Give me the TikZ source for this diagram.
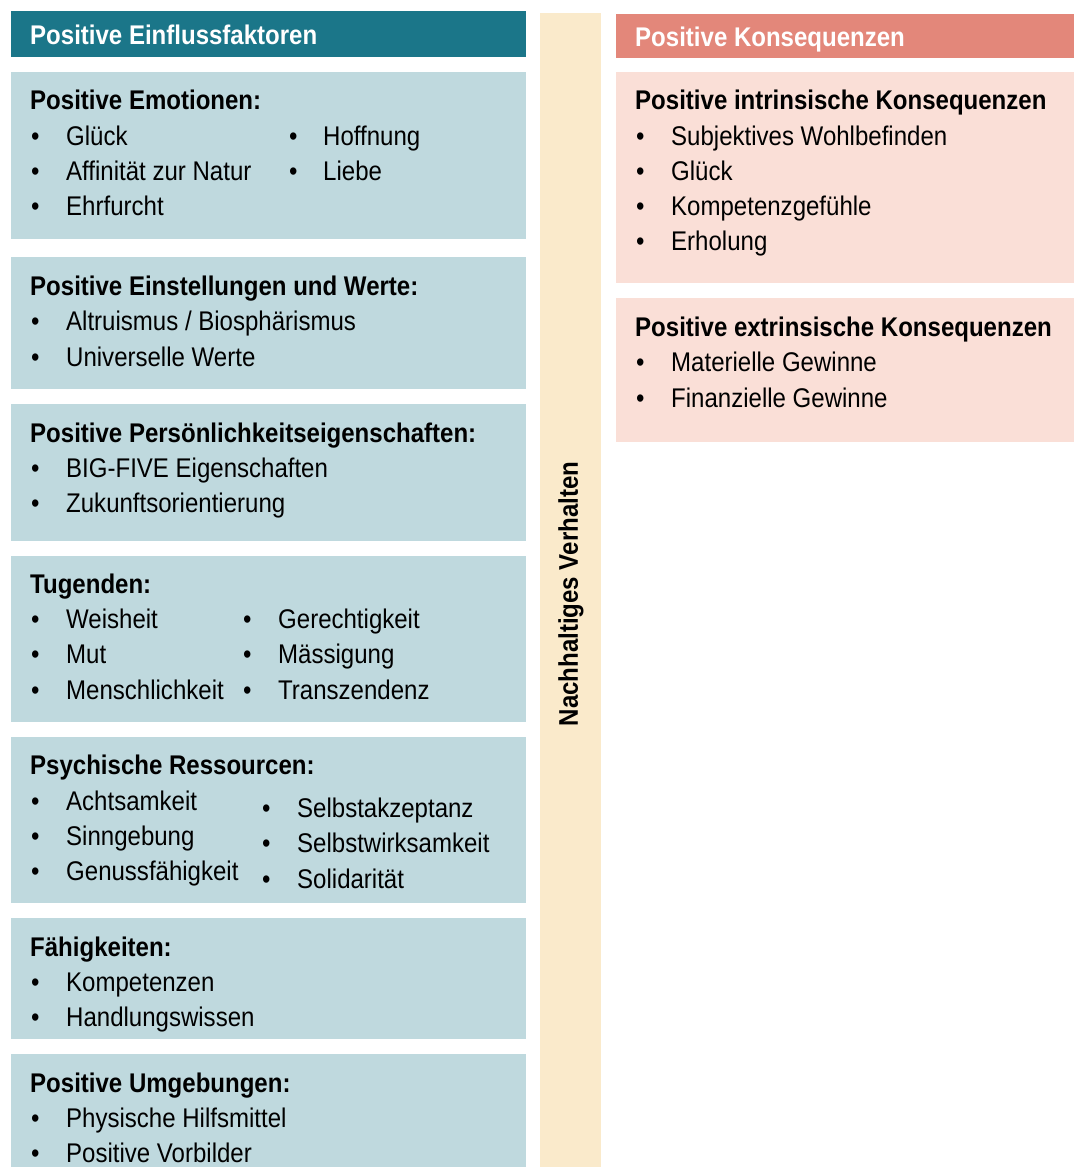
\documentclass[tikz,border=0pt]{standalone}
\usepackage{fontspec}
\setmainfont{Liberation Sans}[FakeStretch=0.89]
\definecolor{hdrteal}{HTML}{1B7689}
\definecolor{boxblue}{HTML}{BFD9DE}
\definecolor{barcream}{HTML}{FAEACB}
\definecolor{hdrsalmon}{HTML}{E3877A}
\definecolor{boxpink}{HTML}{FADFD7}
\tikzset{
  panel/.style={anchor=north west, inner sep=0pt, draw=none},
  txt/.style={anchor=base west, inner sep=0pt, font=\fontsize{27}{35}\selectfont},
  headtxt/.style={txt, font=\fontsize{27}{35}\selectfont\bfseries},
}
% bullet item: name, bullet x, baseline y, text x, text
\newcommand\bitem[5]{%
  \node[txt] (#1b) at (#2,#3) {•};
  \node[txt] (#1) at (#4,#3) {#5};}
\begin{document}
\begin{tikzpicture}[x=1pt,y=-1pt]
\useasboundingbox (0,0) rectangle (1074,1167);

% left column: influencing factors
\node[panel, fill=hdrteal, minimum width=515pt, minimum height=46pt] (lhead) at (11,11) {};
\node[panel, fill=boxblue, minimum width=515pt, minimum height=167pt] (l1) at (11,72) {};
\node[panel, fill=boxblue, minimum width=515pt, minimum height=132pt] (l2) at (11,257) {};
\node[panel, fill=boxblue, minimum width=515pt, minimum height=137pt] (l3) at (11,404) {};
\node[panel, fill=boxblue, minimum width=515pt, minimum height=166pt] (l4) at (11,556) {};
\node[panel, fill=boxblue, minimum width=515pt, minimum height=166pt] (l5) at (11,737) {};
\node[panel, fill=boxblue, minimum width=515pt, minimum height=121pt] (l6) at (11,918) {};
\node[panel, fill=boxblue, minimum width=515pt, minimum height=113pt] (l7) at (11,1054) {};

% middle bar
\node[panel, fill=barcream, minimum width=61pt, minimum height=1154pt] (mid) at (540,13) {};
\node[headtxt, anchor=center, rotate=90] (midtxt) at (571,594) {Nachhaltiges Verhalten};

% right column: consequences
\node[panel, fill=hdrsalmon, minimum width=458pt, minimum height=44pt] (rhead) at (616,14) {};
\node[panel, fill=boxpink, minimum width=458pt, minimum height=211pt] (r1) at (616,72) {};
\node[panel, fill=boxpink, minimum width=458pt, minimum height=144pt] (r2) at (616,298) {};

% header texts
\node[headtxt, text=white] (lheadtxt) at (30,44) {Positive Einflussfaktoren};
\node[headtxt, text=white] (rheadtxt) at (635,46) {Positive Konsequenzen};

% box 1
\node[headtxt] (h1) at (30,109) {Positive Emotionen:};
\bitem{e1}{31}{145}{66}{Glück}
\bitem{e2}{31}{180}{66}{Affinität zur Natur}
\bitem{e3}{31}{215}{66}{Ehrfurcht}
\bitem{e4}{289}{145}{323}{Hoffnung}
\bitem{e5}{289}{180}{323}{Liebe}

% box 2
\node[headtxt] (h2) at (30,295) {Positive Einstellungen und Werte:};
\bitem{w1}{31}{330}{66}{Altruismus / Biosphärismus}
\bitem{w2}{31}{366}{66}{Universelle Werte}

% box 3
\node[headtxt] (h3) at (30,442) {Positive Persönlichkeitseigenschaften:};
\bitem{p1}{31}{477}{66}{BIG-FIVE Eigenschaften}
\bitem{p2}{31}{512}{66}{Zukunftsorientierung}

% box 4
\node[headtxt] (h4) at (30,593) {Tugenden:};
\bitem{t1}{31}{628}{66}{Weisheit}
\bitem{t2}{31}{663}{66}{Mut}
\bitem{t3}{31}{699}{66}{Menschlichkeit}
\bitem{t4}{243}{628}{278}{Gerechtigkeit}
\bitem{t5}{243}{663}{278}{Mässigung}
\bitem{t6}{243}{699}{278}{Transzendenz}

% box 5
\node[headtxt] (h5) at (30,774) {Psychische Ressourcen:};
\bitem{r1i}{31}{810}{66}{Achtsamkeit}
\bitem{r2i}{31}{845}{66}{Sinngebung}
\bitem{r3i}{31}{880}{66}{Genussfähigkeit}
\bitem{r4i}{262}{817}{297}{Selbstakzeptanz}
\bitem{r5i}{262}{852}{297}{Selbstwirksamkeit}
\bitem{r6i}{262}{888}{297}{Solidarität}

% box 6
\node[headtxt] (h6) at (30,956) {Fähigkeiten:};
\bitem{f1}{31}{991}{66}{Kompetenzen}
\bitem{f2}{31}{1026}{66}{Handlungswissen}

% box 7
\node[headtxt] (h7) at (30,1092) {Positive Umgebungen:};
\bitem{u1}{31}{1127}{66}{Physische Hilfsmittel}
\bitem{u2}{31}{1162}{66}{Positive Vorbilder}

% right box 1
\node[headtxt] (k1) at (635,109) {Positive intrinsische Konsequenzen};
\bitem{i1}{636}{145}{671}{Subjektives Wohlbefinden}
\bitem{i2}{636}{180}{671}{Glück}
\bitem{i3}{636}{215}{671}{Kompetenzgefühle}
\bitem{i4}{636}{250}{671}{Erholung}

% right box 2
\node[headtxt] (k2) at (635,336) {Positive extrinsische Konsequenzen};
\bitem{x1}{636}{371}{671}{Materielle Gewinne}
\bitem{x2}{636}{407}{671}{Finanzielle Gewinne}
\end{tikzpicture}
\end{document}
